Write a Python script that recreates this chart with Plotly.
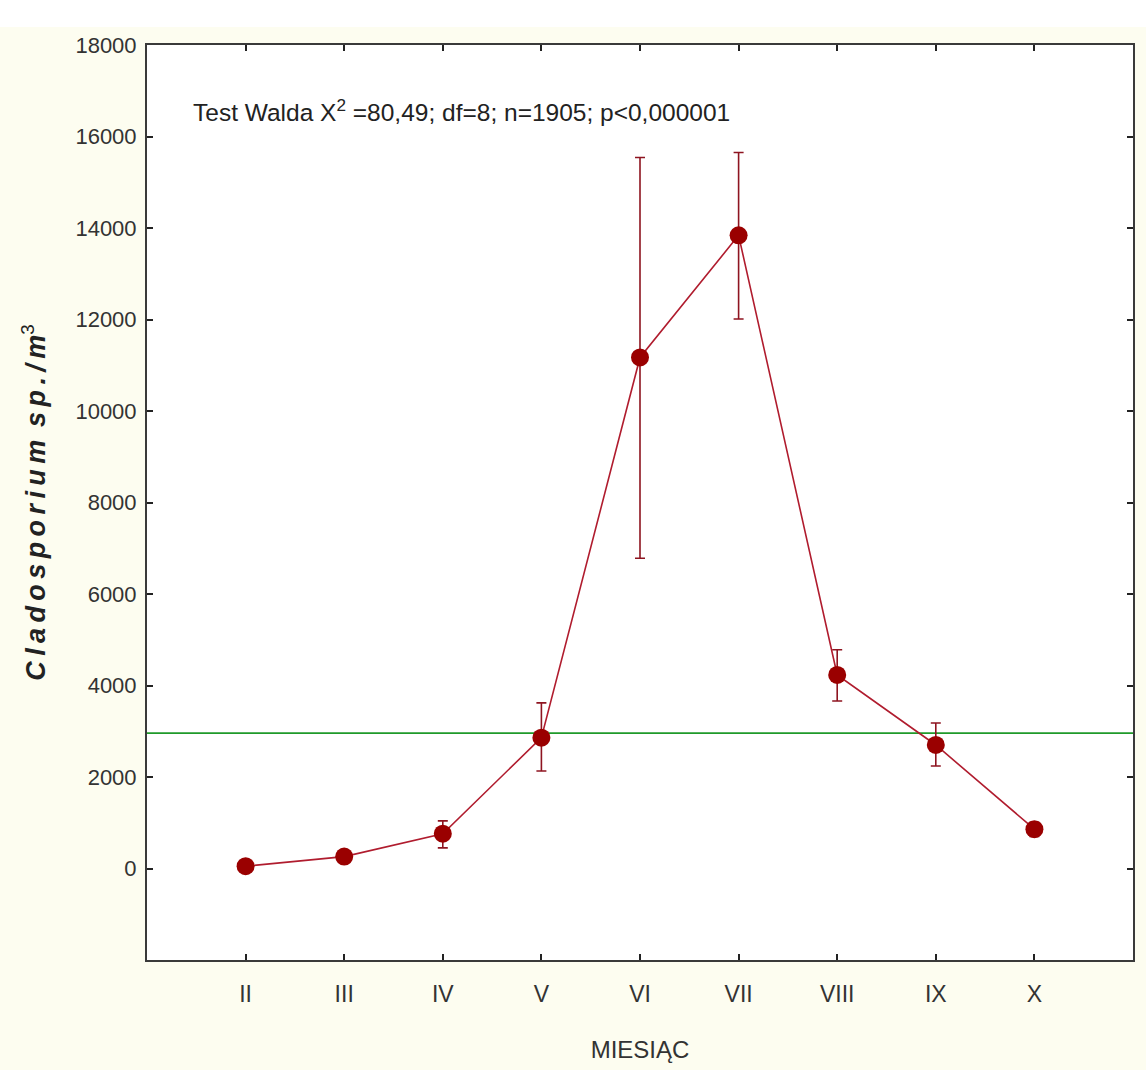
import plotly.graph_objects as go

months = ["II", "III", "IV", "V", "VI", "VII", "VIII", "IX", "X"]
means = [50, 260, 760, 2860, 11170, 13840, 4230, 2700, 860]
upper = [140, 370, 1040, 3620, 15540, 15650, 4780, 3180, 1010]
lower = [-40, 150, 450, 2130, 6780, 12010, 3660, 2240, 700]
reference_level = 2960
y_ticks = [0, 2000, 4000, 6000, 8000, 10000, 12000, 14000, 16000, 18000]

err_plus = [u - m for u, m in zip(upper, means)]
err_minus = [m - l for m, l in zip(means, lower)]

FONT = "Liberation Sans Narrow, Arial Narrow, Liberation Sans, Arial, sans-serif"
TS = "\u2009"
ytitle_main = TS.join("Cladosporium") + TS + " " + TS.join("sp./m")

fig = go.Figure()
fig.add_trace(go.Scatter(
    x=[-1, 9], y=[reference_level, reference_level], mode="lines",
    line=dict(color="#1f9a2a", width=1.8), hoverinfo="skip", showlegend=False,
))
fig.add_trace(go.Scatter(
    x=list(range(len(months))), y=means, mode="lines+markers",
    line=dict(color="#b01c2e", width=1.6),
    marker=dict(color="#9a0000", size=18, line=dict(width=0)),
    error_y=dict(type="data", symmetric=False, array=err_plus, arrayminus=err_minus,
                 color="#8e1420", thickness=1.6, width=5),
    showlegend=False,
))

axis_common = dict(showline=True, linecolor="#3a3a3a", linewidth=2, mirror="ticks",
                   ticks="inside", ticklen=6, tickcolor="#222222", tickwidth=1.5,
                   showgrid=False, zeroline=False)

fig.update_layout(
    width=1146, height=1070,
    margin=dict(l=147, r=11, t=45, b=108),
    paper_bgcolor="#fdfdf0", plot_bgcolor="#ffffff",
    font=dict(family=FONT, color="#333333", size=22),
    xaxis=dict(range=[-1, 9], tickmode="array", tickvals=list(range(len(months))),
               ticktext=months, tickfont=dict(size=23, family=FONT, color="#333333"),
               ticklabelstandoff=12,
               title=dict(text="MIESIĄC", font=dict(size=24, family=FONT, color="#333333"),
                          standoff=36),
               **axis_common),
    yaxis=dict(range=[-2000, 18000], tickmode="array", tickvals=y_ticks,
               ticktext=[str(v) for v in y_ticks], ticklabelstandoff=4,
               tickfont=dict(size=22, family=FONT, color="#333333"),
               title=dict(text="<b><i>" + ytitle_main + "</i></b><sup>3</sup>",
                          font=dict(size=27, family="Liberation Sans, Arial, sans-serif",
                                    color="#222222"), standoff=22),
               **axis_common),
    shapes=[dict(type="rect", xref="paper", yref="paper", x0=-0.2, x1=1.1,
                 y0=1.0 + 18 / 917, y1=1.2, fillcolor="#ffffff", line=dict(width=0),
                 layer="below")],
    annotations=[dict(text="Test Walda X<sup>2</sup> =80,49; df=8; n=1905; p<0,000001",
                      xref="paper", yref="paper", x=44 / 988, y=1 - 66 / 917,
                      xanchor="left", yanchor="middle", showarrow=False,
                      font=dict(size=24.5, family=FONT, color="#222222"))],
)

fig.write_html("out.html")
